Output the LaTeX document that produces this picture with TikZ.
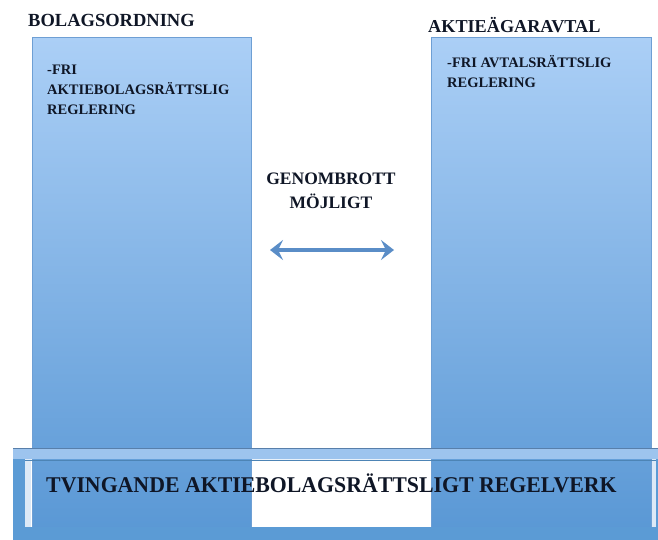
\documentclass[tikz,border=0pt]{standalone}
\usepackage{fontspec}
\setmainfont{Liberation Serif}
\usetikzlibrary{arrows.meta}
\definecolor{coltop}{HTML}{ABCFF6}
\definecolor{colbot}{HTML}{5A98D5}
\definecolor{coledge}{HTML}{6E9FD4}
\definecolor{barblue}{HTML}{5B9BD5}
\definecolor{barlight}{HTML}{9DC4EE}
\definecolor{innerline}{HTML}{DCE9F7}
\definecolor{arrowblue}{HTML}{5A8DC7}
\definecolor{txt}{HTML}{0F1626}
\tikzset{
  column/.style={draw=coledge, line width=0.8pt, top color=coltop, bottom color=colbot},
  title/.style={font=\bfseries, text=txt, inner sep=0pt, anchor=base west},
  coltext/.style={font=\bfseries\fontsize{14.5}{20}\selectfont, text=txt, inner sep=0pt, anchor=north west, align=left},
  midtext/.style={font=\bfseries\fontsize{17.5}{24}\selectfont, text=txt, inner sep=0pt, align=center},
  twoway/.style={{Stealth[length=13pt,width=20pt,inset=5pt]}-{Stealth[length=13pt,width=20pt,inset=5pt]}, line width=3.5pt, draw=arrowblue}
}
\begin{document}
\begin{tikzpicture}[x=1pt,y=-1pt]
\useasboundingbox (0,0) rectangle (658,539);
% columns
\path[column] (32,37) rectangle (251,530);
\path[column] (431,37) rectangle (651,530);
% bottom frame
\fill[barblue, even odd rule] (13,448) rectangle (662,545) (25,459) rectangle (652,527);
\fill[barlight] (13,448) rectangle (662,459);
\draw[coledge!80!black, line width=0.5pt] (13,448) -- (662,448);
\fill[innerline] (25,459) rectangle (31,527);
\fill[innerline] (652,459) rectangle (656,527);
\draw[barblue!85!black, line width=1pt] (25,460) -- (656,460);
% titles
\node[title, font=\bfseries\fontsize{18.5}{22}\selectfont] (bolag) at (28,26) {BOLAGSORDNING};
\node[title, font=\bfseries\fontsize{18.2}{22}\selectfont] (avtal) at (428,32) {AKTIEÄGARAVTAL};
% column text
\node[coltext] (ltext) at (47,65) {-FRI\\AKTIEBOLAGSRÄTTSLIG\\REGLERING};
\node[coltext] (rtext) at (447,55) {-FRI AVTALSRÄTTSLIG\\REGLERING};
% middle
\node[midtext] (gen) at (331,191) {GENOMBROTT\\MÖJLIGT};
\coordinate (aleft) at (270,250);
\coordinate (aright) at (394,250);
\draw[twoway] (aleft) -- (aright);
% bottom text
\node[title, xscale=0.97, font=\bfseries\fontsize{22.5}{26}\selectfont] (tving) at (46,492) {TVINGANDE AKTIEBOLAGSRÄTTSLIGT REGELVERK};
\end{tikzpicture}
\end{document}
